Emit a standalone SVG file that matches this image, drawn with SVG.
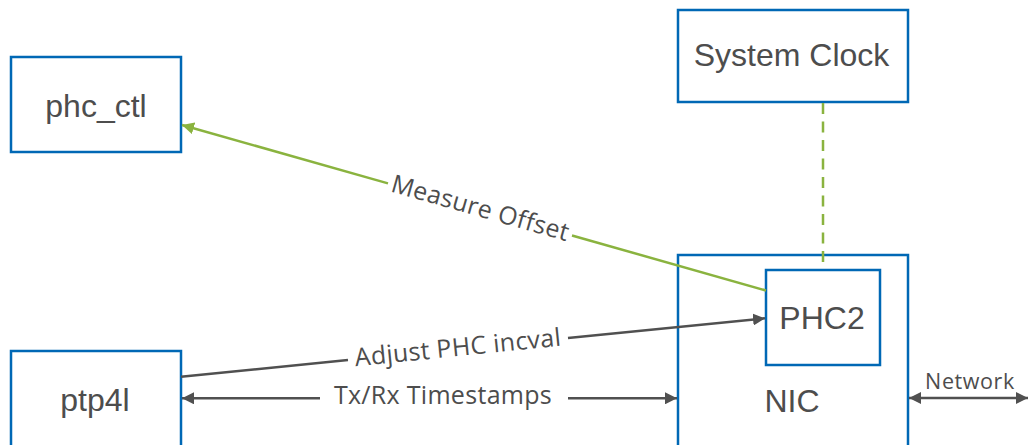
<svg xmlns="http://www.w3.org/2000/svg" width="1028" height="445" viewBox="0 0 1028 445">
  <style>
    .box { fill: #ffffff; stroke: #0068B5; stroke-width: 2.5; }
    .lbl { font-family: "Liberation Sans", Arial, sans-serif; font-size: 32px; fill: #4d4d4d; text-anchor: middle; }
    .elbl { font-family: "Open Sans", "DejaVu Sans", sans-serif; font-size: 25px; fill: #4d4d4d; text-anchor: middle; letter-spacing: 0.3px; }
    .gray { stroke: #505050; stroke-width: 2.5; fill: none; }
    .green { stroke: #8AB33F; stroke-width: 2.5; fill: none; }
  </style>
  <defs>
    <marker id="ag" markerUnits="userSpaceOnUse" markerWidth="12" markerHeight="12" refX="12" refY="6" orient="auto-start-reverse">
      <path d="M0,0 L12,6 L0,12 z" fill="#505050"/>
    </marker>
    <marker id="agr" markerUnits="userSpaceOnUse" markerWidth="12" markerHeight="12" refX="12" refY="6" orient="auto-start-reverse">
      <path d="M0,0 L12,6 L0,12 z" fill="#8AB33F"/>
    </marker>
  </defs>

  <g id="phc_ctl">
    <rect class="box" x="11" y="57" width="170" height="95"/>
    <text class="lbl" x="96" y="116.5">phc_ctl</text>
  </g>
  <g id="system_clock">
    <rect class="box" x="678" y="10" width="230" height="92"/>
    <text class="lbl" x="791.5" y="66">System Clock</text>
  </g>
  <g id="nic">
    <rect class="box" x="678" y="255" width="230" height="200"/>
    <text class="lbl" x="792" y="411.5">NIC</text>
  </g>
  <g id="phc2">
    <rect class="box" x="766" y="270" width="114" height="95"/>
    <text class="lbl" x="822" y="329">PHC2</text>
  </g>
  <g id="ptp4l">
    <rect class="box" x="11" y="351" width="170" height="110"/>
    <text class="lbl" x="95" y="410.5">ptp4l</text>
  </g>

  <g id="connectors">
    <line class="green" x1="823" y1="103" x2="823" y2="269" stroke-dasharray="11,7.5"/>

    <line class="green" x1="766" y1="290.5" x2="572" y2="235.5"/>
    <line class="green" x1="388" y1="183.4" x2="182" y2="125" marker-end="url(#agr)"/>
    <text class="elbl" transform="translate(480,209.5) rotate(15.82)" x="0" y="7">Measure Offset</text>

    <line class="gray" x1="181" y1="376.7" x2="348" y2="360"/>
    <line class="gray" x1="568" y1="338" x2="765" y2="318.3" marker-end="url(#ag)"/>
    <text class="elbl" transform="translate(458,349) rotate(-5.71)" x="0" y="7">Adjust PHC incval</text>

    <line class="gray" x1="320" y1="398.3" x2="182" y2="398.3" marker-end="url(#ag)"/>
    <line class="gray" x1="568" y1="398.3" x2="677" y2="398.3" marker-end="url(#ag)"/>
    <text class="elbl" x="443" y="403.5">Tx/Rx Timestamps</text>

    <line class="gray" x1="909" y1="398" x2="1028" y2="398" marker-start="url(#ag)" marker-end="url(#ag)"/>
    <text class="elbl" x="970" y="388.5" style="font-size:21.5px;letter-spacing:0.6px">Network</text>
  </g>
</svg>
